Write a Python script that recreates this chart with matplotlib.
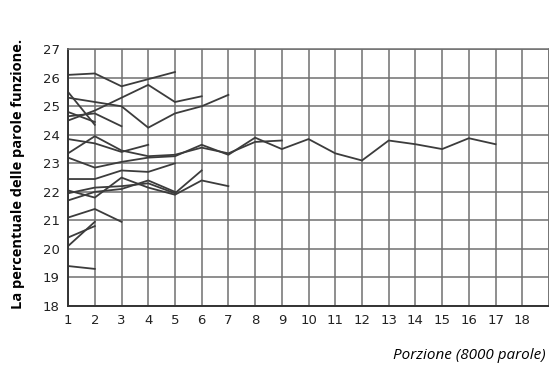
import matplotlib
matplotlib.use("Agg")
import matplotlib.pyplot as plt

# each series: (first portion, values read per portion)
upper_1 = [26.1, 26.15, 25.7, 25.95, 26.2]
upper_2 = [24.5, 24.85, 25.3, 25.75, 25.15, 25.35]
upper_3 = [25.3, 25.15, 25.0, 24.25, 24.75, 25.0, 25.4]
upper_4 = [25.5, 24.35]
upper_5 = [24.8, 24.45]
upper_6 = [24.65, 24.75, 24.3]

mid_1 = [23.85, 23.7, 23.4, 23.65]
mid_2 = [23.35, 23.95, 23.45, 23.25, 23.3, 23.55, 23.35, 23.75, 23.8]
long_run = [23.2, 22.85, 23.05, 23.2, 23.25, 23.65, 23.3, 23.9, 23.5,
            23.85, 23.35, 23.1, 23.8, 23.67, 23.5, 23.88, 23.67]
mid_3 = [22.45, 22.45, 22.75, 22.7, 23.0]
mid_4 = [22.05, 21.8, 22.5, 22.15, 21.9, 22.4, 22.2]
mid_5 = [21.95, 22.15, 22.2, 22.3, 21.95, 22.75]
mid_6 = [21.7, 22.0, 22.1, 22.4, 22.0]
mid_7 = [21.1, 21.4, 20.95]

low_1 = [20.1, 20.95]
low_2 = [20.4, 20.8]
low_3 = [19.4, 19.3]

series = [upper_1, upper_2, upper_3, upper_4, upper_5, upper_6,
          mid_1, mid_2, long_run, mid_3, mid_4, mid_5, mid_6, mid_7,
          low_1, low_2, low_3]

x_ticks = list(range(1, 19))
y_ticks = list(range(18, 28))

fig = plt.figure(figsize=(5.49, 3.70), dpi=100)
ax = fig.add_axes([0.124, 0.173, 0.876, 0.694])

for vals in series:
    xs = list(range(1, len(vals) + 1))
    ax.plot(xs, vals, color="#3c3c3c", lw=1.3, solid_joinstyle="miter")

ax.set_xlim(1, 19)
ax.set_ylim(18, 27)
ax.set_xticks(list(range(1, 20)))
ax.set_xticklabels([str(v) for v in x_ticks] + [""])
ax.set_yticks(y_ticks)
ax.grid(True, color="#707070", lw=1.1)
ax.set_axisbelow(True)
ax.tick_params(length=0, labelsize=9.5, labelcolor="#222222", pad=6)
for lab in ax.get_xticklabels() + ax.get_yticklabels():
    lab.set_family(["Liberation Sans Narrow", "DejaVu Sans"])
for side in ["left", "bottom"]:
    ax.spines[side].set_color("#333333")
    ax.spines[side].set_linewidth(1.4)
for side in ["top", "right"]:
    ax.spines[side].set_color("#707070")
    ax.spines[side].set_linewidth(1.1)

fig.text(0.032, 0.53, "La percentuale delle parole funzione.", rotation=90,
         ha="center", va="center", fontsize=10.5, fontweight="bold",
         family=["Open Sans", "DejaVu Sans"])
fig.text(0.993, 0.04, "Porzione (8000 parole)", ha="right", va="center",
         fontsize=11, style="italic", family=["Open Sans", "DejaVu Sans"])

fig.savefig("out.png", dpi=100)
